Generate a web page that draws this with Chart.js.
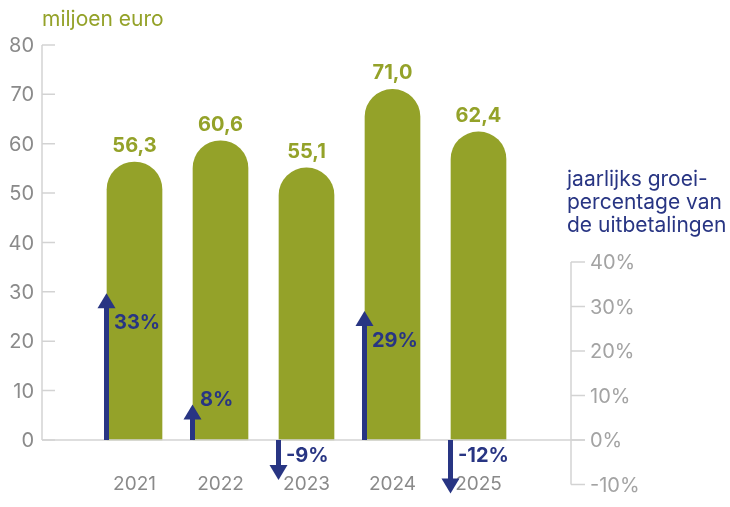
<!DOCTYPE html>
<html><head><meta charset="utf-8">
<script src="https://cdn.jsdelivr.net/npm/chart.js@4/dist/chart.umd.min.js"></script>
<style>html,body{margin:0;padding:0;background:#fff}#wrap{width:730px;height:507px}</style>
</head><body><div id="wrap"><canvas id="c" width="730" height="507"></canvas></div>
<script>
// ---- data ----
const years = ['2021', '2022', '2023', '2024', '2025'];
const payouts = [56.3, 60.6, 55.1, 71.0, 62.4];      // miljoen euro
const growth = [33, 8, -9, 29, -12];                  // jaarlijks groeipercentage (%)
const leftTicks = [0, 10, 20, 30, 40, 50, 60, 70, 80];
const rightTicks = [-10, 0, 10, 20, 30, 40];
const leftTitle = 'miljoen euro';
const rightTitle = ['jaarlijks groei-', 'percentage van', 'de uitbetalingen'];

// ---- styles ----
const GREEN = '#94a229';
const NAVY = '#283583';
const AXIS = '#d3d3d3';
const TICKTXT = '#8a8a8a';
const RTICKTXT = '#a3a3a3';
const FONT = 'Inter, "Open Sans", sans-serif';

const fmtVal = v => v.toFixed(1).replace('.', ',');

const drawPlugin = {
  id: 'custom',
  afterDatasetsDraw(chart) {
    const ctx = chart.ctx;
    const xs = chart.scales.x, ys = chart.scales.y, ys2 = chart.scales.y2;
    const ca = chart.chartArea;
    const y0 = ys.getPixelForValue(0);
    ctx.save();
    ctx.lineWidth = 1.5;
    ctx.strokeStyle = AXIS;
    // left axis
    const lx = ca.left;
    ctx.beginPath();
    ctx.moveTo(lx, ys.getPixelForValue(leftTicks[leftTicks.length - 1]));
    ctx.lineTo(lx, y0);
    leftTicks.forEach(v => {
      const py = ys.getPixelForValue(v);
      ctx.moveTo(lx, py); ctx.lineTo(lx + 13, py);
    });
    ctx.stroke();
    // right axis
    const rx = ca.right;
    ctx.beginPath();
    ctx.moveTo(rx, ys2.getPixelForValue(rightTicks[rightTicks.length - 1]));
    ctx.lineTo(rx, ys2.getPixelForValue(rightTicks[0]));
    rightTicks.forEach(v => {
      const py = ys2.getPixelForValue(v);
      ctx.moveTo(rx, py); ctx.lineTo(rx + 14, py);
    });
    ctx.stroke();
    // baseline
    ctx.beginPath();
    ctx.moveTo(lx, y0); ctx.lineTo(rx + 14, y0);
    ctx.stroke();

    // left tick labels
    ctx.font = '20px ' + FONT;
    ctx.fillStyle = TICKTXT;
    ctx.textAlign = 'right';
    ctx.textBaseline = 'middle';
    leftTicks.forEach(v => ctx.fillText(String(v), lx - 8, ys.getPixelForValue(v) + 1));
    // right tick labels
    ctx.fillStyle = RTICKTXT;
    ctx.textAlign = 'left';
    rightTicks.forEach(v => ctx.fillText(v + '%', rx + 19, ys2.getPixelForValue(v) + 1));

    // year labels
    ctx.font = '19px ' + FONT;
    ctx.fillStyle = TICKTXT;
    ctx.textAlign = 'center';
    years.forEach((t, i) => ctx.fillText(t, xs.getPixelForValue(i), y0 + 44));

    // value labels
    ctx.font = 'bold 20px ' + FONT;
    ctx.fillStyle = GREEN;
    payouts.forEach((v, i) => ctx.fillText(fmtVal(v), xs.getPixelForValue(i), ys.getPixelForValue(v) - 16));

    // arrows
    const meta = chart.getDatasetMeta(0);
    growth.forEach((g, i) => {
      const bar = meta.data[i];
      const sx = bar.x - bar.width / 2 - 0.5;
      const tip = ys2.getPixelForValue(g);
      const hh = 15, hw = 9, sw = 5;
      ctx.fillStyle = NAVY;
      if (g >= 0) {
        ctx.fillRect(sx - sw / 2, tip + hh - 1, sw, y0 - tip - hh + 1);
        ctx.beginPath();
        ctx.moveTo(sx - hw, tip + hh); ctx.lineTo(sx + hw, tip + hh); ctx.lineTo(sx, tip);
        ctx.closePath(); ctx.fill();
      } else {
        ctx.fillRect(sx - sw / 2, y0, sw, tip - hh - y0 + 1);
        ctx.beginPath();
        ctx.moveTo(sx - hw, tip - hh); ctx.lineTo(sx + hw, tip - hh); ctx.lineTo(sx, tip);
        ctx.closePath(); ctx.fill();
      }
      ctx.font = 'bold 20px ' + FONT;
      ctx.textAlign = 'left';
      let ly;
      if (g >= 0) ly = (y0 - tip > 80) ? tip + 30 : tip - 4;
      else ly = y0 + 16;
      ctx.fillText(g + '%', sx + 7.5, ly);
    });

    // titles
    ctx.font = '21px ' + FONT;
    ctx.fillStyle = GREEN;
    ctx.textAlign = 'left';
    ctx.fillText(leftTitle, lx, 20);
    ctx.fillStyle = NAVY;
    rightTitle.forEach((t, k) => ctx.fillText(t, 567, 180 + k * 23));
    ctx.restore();
  }
};

new Chart(document.getElementById('c'), {
  type: 'bar',
  data: {
    datasets: [{
      data: payouts.map((v, i) => ({ x: i, y: v })),
      xAxisID: 'x',
      yAxisID: 'y',
      backgroundColor: GREEN,
      barThickness: 55,
      borderRadius: { topLeft: 27.5, topRight: 27.5, bottomLeft: 0, bottomRight: 0 },
      borderSkipped: 'start'
    }]
  },
  options: {
    responsive: false,
    animation: false,
    devicePixelRatio: 1,
    layout: { padding: { left: 42, right: 159, top: 45, bottom: 22 } },
    plugins: { legend: { display: false }, tooltip: { enabled: false } },
    scales: {
      x: { type: 'linear', display: false, offset: false, min: -1.0756, max: 5.0756 },
      y: { type: 'linear', display: false, min: -9.114, max: 80 },
      y2: { type: 'linear', display: false, position: 'right', min: -10.11, max: 88.76 }
    }
  },
  plugins: [drawPlugin]
});
</script>
</body></html>
